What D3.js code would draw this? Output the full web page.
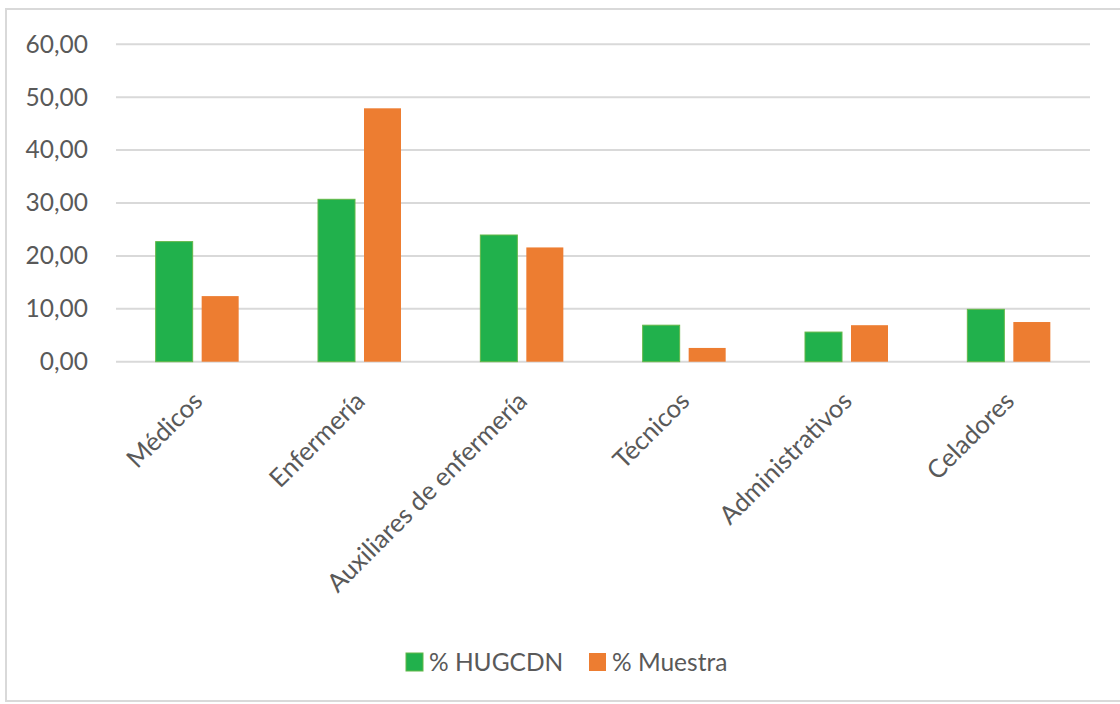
<!DOCTYPE html>
<html>
<head>
<meta charset="utf-8">
<script src="https://cdn.jsdelivr.net/npm/d3@7"></script>
<style>
  html, body { margin: 0; padding: 0; background: #fff; }
  svg text { font-family: Lato, "Open Sans", sans-serif; fill: #595959; }
</style>
</head>
<body>
<svg id="chart" width="1120" height="704"></svg>
<script>
// Categories and series (percentages)
const categories = ["Médicos", "Enfermería", "Auxiliares de enfermería", "Técnicos", "Administrativos", "Celadores"];
const hugcdn = [22.7, 30.7, 23.95, 6.9, 5.6, 9.9];
const muestra = [12.4, 47.9, 21.6, 2.6, 6.9, 7.5];
const seriesNames = ["% HUGCDN", "% Muestra"];
const yTicks = [0, 10, 20, 30, 40, 50, 60];

const colors = ["#21b14c", "#ed7d31"];
const svg = d3.select("#chart");

// Outer frame
svg.append("rect")
  .attr("x", 6).attr("y", 9)
  .attr("width", 1125).attr("height", 692)
  .attr("fill", "#fff")
  .attr("stroke", "#d9d9d9").attr("stroke-width", 2);

const plot = { left: 116, right: 1090, top: 44.3, bottom: 361.7 };

const x = d3.scaleBand()
  .domain(categories)
  .range([plot.left, plot.right]);

const y = d3.scaleLinear()
  .domain([0, 60])
  .range([plot.bottom, plot.top]);

// Gridlines
svg.append("g")
  .selectAll("line")
  .data(yTicks)
  .join("line")
  .attr("x1", plot.left).attr("x2", plot.right)
  .attr("y1", d => y(d)).attr("y2", d => y(d))
  .attr("stroke", "#d9d9d9").attr("stroke-width", 2);

// Y axis labels
const fmt = d => d.toFixed(2).replace(".", ",");
const yAxis = d3.axisLeft(y).tickValues(yTicks).tickFormat(fmt).tickSize(0).tickPadding(0);
const yg = svg.append("g").attr("transform", `translate(88,0)`).call(yAxis);
yg.select(".domain").remove();
yg.selectAll("text")
  .attr("font-size", 24.5)
  .attr("fill", "#595959")
  .style("font-family", "Lato, 'Open Sans', sans-serif");

// Bars
const barW = 37, gap = 9;
const series = [hugcdn, muestra];
series.forEach((vals, si) => {
  svg.append("g")
    .selectAll("rect")
    .data(categories)
    .join("rect")
    .attr("x", (c) => x(c) + x.bandwidth() / 2 + (si === 0 ? -(barW + gap / 2) : gap / 2))
    .attr("width", barW)
    .attr("y", (c, i) => y(vals[i]))
    .attr("height", (c, i) => y(0) - y(vals[i]))
    .attr("fill", colors[si])
    .attr("stroke", si === 0 ? "#63b848" : "none")
    .attr("stroke-width", 1);
});

// Category labels, rotated
svg.append("g")
  .selectAll("text")
  .data(categories)
  .join("text")
  .attr("transform", c => `translate(${x(c) + x.bandwidth() / 2 + 7},${plot.bottom + 41}) rotate(-45)`)
  .attr("text-anchor", "end")
  .attr("font-size", 25.5)
  .text(c => c);

// Legend
const legend = svg.append("g");
const legendItems = [
  { name: seriesNames[0], color: colors[0], x: 406 },
  { name: seriesNames[1], color: colors[1], x: 589 }
];
legendItems.forEach((it, i) => {
  legend.append("rect")
    .attr("x", it.x).attr("y", 653)
    .attr("width", 17).attr("height", 18)
    .attr("fill", it.color)
    .attr("stroke", i === 0 ? "#63b848" : "none");
  legend.append("text")
    .attr("x", it.x + 23).attr("y", 671)
    .attr("font-size", 24.5)
    .text(it.name);
});
</script>
</body>
</html>
